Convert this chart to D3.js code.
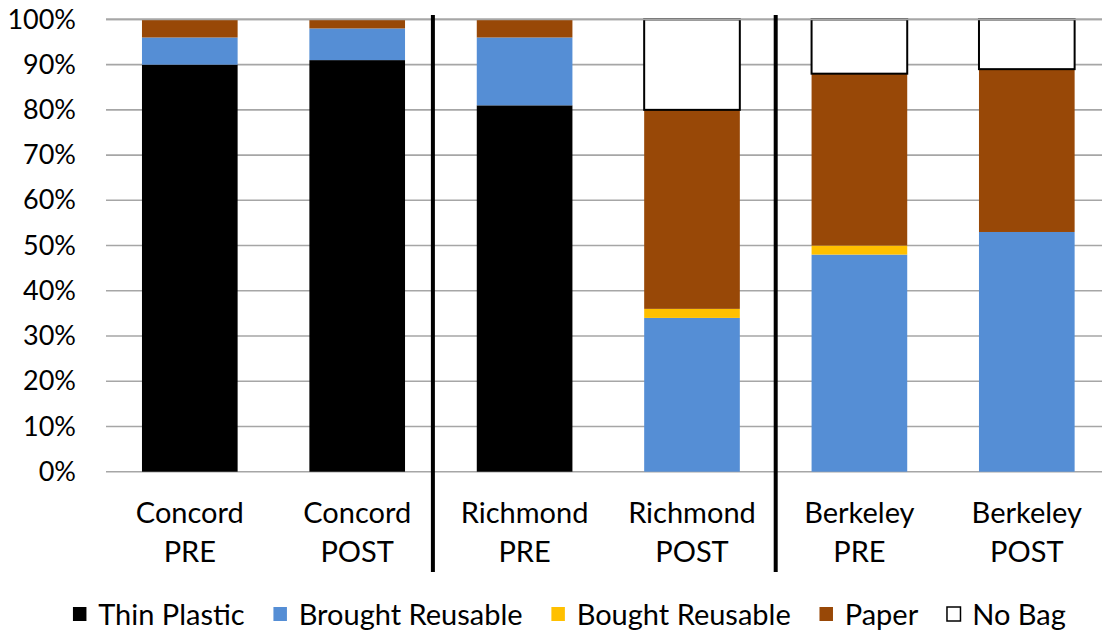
<!DOCTYPE html>
<html>
<head>
<meta charset="utf-8">
<script src="https://cdn.jsdelivr.net/npm/d3@7"></script>
<style>
  html, body { margin: 0; padding: 0; background: #fff; }
  svg { display: block; font-family: Lato, "Open Sans", sans-serif; }
</style>
</head>
<body>
<svg id="chart" width="1102" height="634"></svg>
<script>
// Bag choice shares at checkout, before and after the bag ordinance
const categories = ["Concord PRE", "Concord POST", "Richmond PRE", "Richmond POST", "Berkeley PRE", "Berkeley POST"];
const seriesNames = ["Thin Plastic", "Brought Reusable", "Bought Reusable", "Paper", "No Bag"];
const thinPlastic     = [90, 91, 81, 0, 0, 0];
const broughtReusable = [6, 7, 15, 34, 48, 53];
const boughtReusable  = [0, 0, 0, 2, 2, 0];
const paper           = [4, 2, 4, 44, 38, 36];
const noBag           = [0, 0, 0, 20, 12, 11];
const yTicks = [0, 0.1, 0.2, 0.3, 0.4, 0.5, 0.6, 0.7, 0.8, 0.9, 1.0];
// city groups are separated after these category indexes
const groupBreaks = [1, 3];

const colors = ["#000000", "#558ed5", "#ffc000", "#984807", "#ffffff"];
const seriesValues = [thinPlastic, broughtReusable, boughtReusable, paper, noBag];

const svg = d3.select("#chart");
const tickFont = 27;
const labelFont = 29;

const x = d3.scaleBand()
  .domain(categories)
  .range([106.1, 1110.5])
  .paddingInner(0.4286)
  .paddingOuter(0.2143);

const y = d3.scaleLinear().domain([0, 1]).range([471.7, 19.4]);

// table of rows for stacking
const rows = categories.map((c, i) => {
  const r = { category: c };
  seriesNames.forEach((s, k) => { r[s] = seriesValues[k][i] / 100; });
  return r;
});
const stacked = d3.stack().keys(seriesNames)(rows);

// stacked bars
const layers = svg.append("g")
  .selectAll("g")
  .data(stacked)
  .join("g")
  .attr("fill", (d, i) => colors[i]);

layers.each(function (layer, li) {
  d3.select(this).selectAll("rect")
    .data(layer.map((seg, i) => ({ seg, cat: categories[i] })).filter(d => d.seg[1] - d.seg[0] > 0))
    .join("rect")
    .attr("x", d => x(d.cat))
    .attr("width", x.bandwidth())
    .attr("y", d => y(d.seg[1]))
    .attr("height", d => y(d.seg[0]) - y(d.seg[1]))
    .attr("stroke", li === 4 ? "#000" : "none")
    .attr("stroke-width", li === 4 ? 2 : 0);
});

// gridlines (drawn only in the gaps and along the top, so bars stay clean)
const grid = svg.insert("g", ":first-child");
grid.selectAll("line")
  .data(yTicks)
  .join("line")
  .attr("x1", 106)
  .attr("x2", 1102)
  .attr("y1", d => y(d))
  .attr("y2", d => y(d))
  .attr("stroke", "#a6a6a6")
  .attr("stroke-width", 1.6);
// top gridline sits over the bar outlines
svg.append("line")
  .attr("x1", 106).attr("x2", 1102)
  .attr("y1", y(1)).attr("y2", y(1))
  .attr("stroke", "#a6a6a6")
  .attr("stroke-width", 1.6);

// y axis labels
const yAxis = d3.axisLeft(y)
  .tickValues(yTicks)
  .tickFormat(d3.format(".0%"))
  .tickSize(0)
  .tickPadding(0);
const yg = svg.append("g").attr("transform", "translate(76,0)").call(yAxis);
yg.select(".domain").remove();
yg.selectAll("text")
  .attr("font-family", "Lato, sans-serif")
  .attr("font-size", tickFont)
  .attr("fill", "#000");

// separators between cities
const sepOffsets = [-8, 0];
const sepX = (d, i) => x(categories[d]) + x.bandwidth() + x.step() * x.paddingInner() / 2 + sepOffsets[i];
svg.append("g")
  .selectAll("line")
  .data(groupBreaks)
  .join("line")
  .attr("x1", sepX)
  .attr("x2", sepX)
  .attr("y1", 15)
  .attr("y2", 572)
  .attr("stroke", "#000")
  .attr("stroke-width", 4);

// category labels (two lines)
const catLabels = svg.append("g")
  .selectAll("text")
  .data(categories)
  .join("text")
  .attr("text-anchor", "middle")
  .attr("font-size", labelFont)
  .attr("fill", "#000");
catLabels.append("tspan")
  .attr("x", d => x(d) + x.bandwidth() / 2)
  .attr("y", 523)
  .text(d => d.split(" ")[0]);
catLabels.append("tspan")
  .attr("x", d => x(d) + x.bandwidth() / 2)
  .attr("y", 562)
  .text(d => d.split(" ")[1]);

// legend
const legend = svg.append("g");
const items = legend.selectAll("g")
  .data(seriesNames)
  .join("g");
items.append("rect")
  .attr("x", 0.75)
  .attr("width", 13.5)
  .attr("height", 14)
  .attr("y", 607)
  .attr("fill", (d, i) => colors[i])
  .attr("stroke", (d, i) => i === 4 ? "#000" : "none")
  .attr("stroke-width", 1.5);
items.append("text")
  .attr("x", 26)
  .attr("y", 625)
  .attr("font-size", labelFont)
  .attr("fill", "#000")
  .text(d => d);

let cursor = 0;
const gap = 28;
items.each(function () {
  const g = d3.select(this);
  const w = 26 + g.select("text").node().getComputedTextLength();
  g.attr("transform", `translate(${cursor},0)`);
  cursor += w + gap;
});
const totalW = cursor - gap;
legend.attr("transform", `translate(${569 - totalW / 2},0)`);
</script>
</body>
</html>
